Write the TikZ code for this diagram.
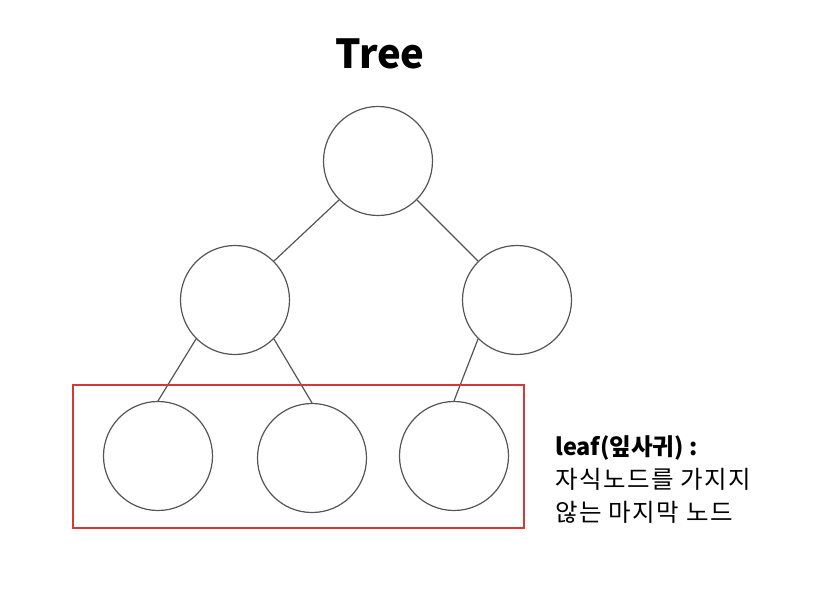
\documentclass[tikz,border=0pt]{standalone}
\usepackage{fontspec}
\setmainfont{Noto Sans CJK KR}
\newfontfamily\korwide[LetterSpace=6]{Noto Sans CJK KR}
\definecolor{boxred}{RGB}{214,56,56}
\definecolor{linegray}{RGB}{85,85,85}
\begin{document}
\begin{tikzpicture}[x=1pt,y=-1pt,
  tnode/.style={circle,draw=linegray,line width=1.2pt,minimum size=109pt,inner sep=0pt},
  edge/.style={draw=linegray,line width=1.2pt},
  leafbox/.style={draw=boxred,line width=1.7pt}]
\useasboundingbox (0,0) rectangle (814,595);
\node[font=\bfseries\fontsize{40}{48}\selectfont] (title) at (380,54) {Tree};
\node[tnode] (r) at (378,161) {};
\node[tnode] (a) at (235,300) {};
\node[tnode] (b) at (517,300) {};
\node[tnode] (l1) at (158,456) {};
\node[tnode] (l2) at (312,458) {};
\node[tnode] (l3) at (454,456) {};
\draw[edge] (r.south west) -- (a.north east);
\draw[edge] (r.south east) -- (b.north west);
\draw[edge] (a.south west) -- (l1.north);
\draw[edge] (a.south east) -- (l2.north);
\draw[edge] (b.south west) -- (l3.north);
\coordinate (bx1) at (73,385);
\coordinate (bx2) at (524,528);
\draw[leafbox] (bx1) rectangle (bx2);
\node[anchor=base west,inner sep=0pt,font=\bfseries\fontsize{23.5}{26}\selectfont] (t1) at (555,455) {leaf(잎사귀) :};
\node[anchor=base west,inner sep=0pt,font=\korwide\fontsize{24.5}{26}\selectfont] (t2) at (555,488) {자식노드를 가지지};
\node[anchor=base west,inner sep=0pt,font=\korwide\fontsize{24.5}{26}\selectfont] (t3) at (555,521) {않는 마지막 노드};
\end{tikzpicture}
\end{document}
